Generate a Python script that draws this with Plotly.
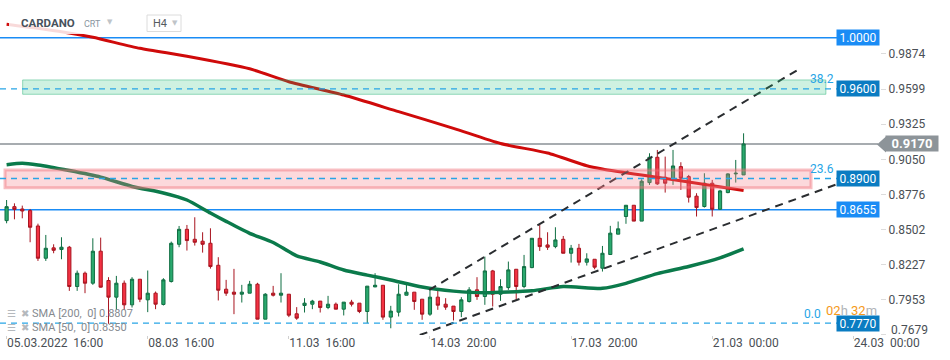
import plotly.graph_objects as go

# ---------------- data ----------------
candle_idx = list(range(95))
opens = [0.8571, 0.8680, 0.8662, 0.8649, 0.8529, 0.8277, 0.8358, 0.8345, 0.8363, 0.8056,
         0.8160, 0.8082, 0.8332, 0.8103, 0.7973, 0.8082, 0.7913, 0.8113, 0.7952, 0.8004,
         0.7916, 0.8095, 0.8386, 0.8503, 0.8425, 0.8410, 0.8394, 0.8222, 0.8035, 0.8012,
         0.7996, 0.8004, 0.8074, 0.7801, 0.8004, 0.7988, 0.7996, 0.7843, 0.7908, 0.7918,
         0.7942, 0.7892, 0.7918, 0.7879, 0.7934, 0.7926, 0.7861, 0.8053, 0.8066, 0.7817,
         0.7856, 0.7988, 0.8012, 0.7957, 0.7840, 0.7973, 0.7918, 0.7903, 0.7861, 0.7939,
         0.8030, 0.7978, 0.8178, 0.7996, 0.8048, 0.8191, 0.8056, 0.8204, 0.8433, 0.8381,
         0.8368, 0.8425, 0.8316, 0.8355, 0.8246, 0.8269, 0.8199, 0.8306, 0.8465, 0.8603,
         0.8691, 0.8567, 0.8868, 0.9066, 0.8910, 0.8889, 0.8993, 0.8915, 0.8762, 0.8681,
         0.8863, 0.8660, 0.8790, 0.8936, 0.8928]
highs = [0.8732, 0.8706, 0.8688, 0.8662, 0.8547, 0.8459, 0.8386, 0.8441, 0.8373, 0.8181,
         0.8173, 0.8433, 0.8438, 0.8129, 0.8139, 0.8103, 0.8129, 0.8113, 0.8181, 0.8017,
         0.8121, 0.8407, 0.8529, 0.8537, 0.8597, 0.8480, 0.8511, 0.8285, 0.8108, 0.8194,
         0.8069, 0.8100, 0.8085, 0.8004, 0.8061, 0.8160, 0.7996, 0.7895, 0.7965, 0.7952,
         0.7942, 0.7983, 0.7931, 0.7934, 0.7952, 0.7926, 0.8059, 0.8160, 0.8066, 0.7905,
         0.8074, 0.8074, 0.8012, 0.7957, 0.8030, 0.8030, 0.7965, 0.7903, 0.7973, 0.8051,
         0.8129, 0.8290, 0.8186, 0.8113, 0.8251, 0.8191, 0.8303, 0.8433, 0.8537, 0.8480,
         0.8519, 0.8451, 0.8381, 0.8389, 0.8316, 0.8269, 0.8373, 0.8530, 0.8564, 0.8691,
         0.8691, 0.8894, 0.9097, 0.9123, 0.9071, 0.9123, 0.9027, 0.8928, 0.8785, 0.8941,
         0.8889, 0.8811, 0.8941, 0.9045, 0.9253]
lows = [0.8550, 0.8581, 0.8589, 0.8402, 0.8256, 0.8256, 0.8316, 0.8269, 0.8022, 0.8022,
        0.8004, 0.8069, 0.8048, 0.7765, 0.7874, 0.7874, 0.7892, 0.7934, 0.7856, 0.7879,
        0.7908, 0.8087, 0.8363, 0.8337, 0.8376, 0.8321, 0.8196, 0.7947, 0.7983, 0.7840,
        0.7931, 0.8004, 0.7801, 0.7801, 0.7978, 0.7931, 0.7817, 0.7796, 0.7853, 0.7879,
        0.7853, 0.7879, 0.7879, 0.7830, 0.7900, 0.7848, 0.7770, 0.8051, 0.7796, 0.7730,
        0.7822, 0.7988, 0.7874, 0.7796, 0.7827, 0.7874, 0.7874, 0.7791, 0.7817, 0.7931,
        0.7952, 0.7913, 0.7900, 0.7944, 0.8030, 0.7952, 0.8043, 0.8199, 0.8334, 0.8342,
        0.8355, 0.8316, 0.8243, 0.8220, 0.8220, 0.8191, 0.8173, 0.8306, 0.8465, 0.8546,
        0.8567, 0.8567, 0.8850, 0.8850, 0.8790, 0.8850, 0.8811, 0.8712, 0.8603, 0.8673,
        0.8603, 0.8655, 0.8785, 0.8868, 0.8928]
closes = [0.8680, 0.8659, 0.8646, 0.8519, 0.8277, 0.8355, 0.8339, 0.8363, 0.8056, 0.8160,
          0.8082, 0.8332, 0.8051, 0.7973, 0.8082, 0.7913, 0.8113, 0.7957, 0.8004, 0.7918,
          0.8108, 0.8394, 0.8503, 0.8415, 0.8402, 0.8386, 0.8212, 0.8027, 0.8004, 0.7996,
          0.8012, 0.8074, 0.7801, 0.7996, 0.7988, 0.8004, 0.7832, 0.7809, 0.7926, 0.7942,
          0.7892, 0.7918, 0.7879, 0.7934, 0.7918, 0.7861, 0.8059, 0.8066, 0.7817, 0.7864,
          0.7996, 0.8012, 0.7939, 0.7840, 0.7973, 0.7910, 0.7895, 0.7861, 0.7952, 0.8030,
          0.7978, 0.8178, 0.7996, 0.8056, 0.8186, 0.8056, 0.8212, 0.8433, 0.8368, 0.8363,
          0.8420, 0.8316, 0.8355, 0.8246, 0.8272, 0.8207, 0.8316, 0.8473, 0.8507, 0.8691,
          0.8567, 0.8879, 0.9066, 0.8858, 0.8863, 0.8998, 0.8902, 0.8754, 0.8673, 0.8863,
          0.8660, 0.8803, 0.8936, 0.8941, 0.9170]

sma200_idx = [0, 7, 11, 17, 23, 31, 36, 43, 50, 57, 63, 69, 74, 76, 81, 87, 94]
sma200_val = [1.0105, 1.0047, 1.0003, 0.9917, 0.9855, 0.9757, 0.9656, 0.9552, 0.9422,
              0.9292, 0.9173, 0.9099, 0.9000, 0.8975, 0.8927, 0.8873, 0.8807]
sma50_idx = [0, 2, 4, 8, 12, 16, 20, 23, 26, 28, 31, 34, 37, 40, 43, 46, 49, 53, 57, 61,
             67, 71, 76, 79, 83, 87, 91, 94]
sma50_val = [0.9008, 0.9019, 0.9006, 0.8962, 0.8911, 0.8838, 0.8787, 0.8732, 0.8630, 0.8565,
             0.8472, 0.8400, 0.8295, 0.8248, 0.8185, 0.8145, 0.8107, 0.8052, 0.8020, 0.8007,
             0.8023, 0.8056, 0.8042, 0.8081, 0.8157, 0.8213, 0.8280, 0.8350]

trend_upper_idx = [53.9, 101.3]
trend_upper_val = [0.8029, 0.9763]
trend_lower_idx = [52.7, 106.0]
trend_lower_val = [0.7677, 0.8857]

zone_green_idx = [2.05, 104.5]
zone_green_val = [0.9558, 0.9670]
zone_pink_idx = [-0.2, 102.6]
zone_pink_val = [0.8827, 0.8966]

solid_levels = [1.0000, 0.8655]
dashed_levels = [0.9600, 0.8900, 0.7770]
last_price = 0.9170
fib_labels = ["38.2", "23.6", "0.0"]
fib_levels = [0.9600, 0.8900, 0.7770]
level_labels = ["1.0000", "0.9600", "0.8900", "0.8655", "0.7770"]
level_label_vals = [1.0000, 0.9600, 0.8900, 0.8655, 0.7770]

x_tick_idx = [0, 18, 36, 54, 72, 90, 108]
x_tick_text = ["05.03.2022\u00a0\u00a016:00", "08.03\u00a0\u00a016:00", "11.03\u00a0\u00a016:00",
               "14.03\u00a0\u00a020:00", "17.03\u00a0\u00a020:00", "21.03\u00a0\u00a000:00",
               "24.03\u00a0\u00a000:00"]
y_tick_vals = [0.7679, 0.7953, 0.8227, 0.8502, 0.8776, 0.9050, 0.9325, 0.9599, 0.9874]
y_tick_text = ["", "0.7953", "0.8227", "0.8502", "0.8776", "0.9050", "0.9325",
               "0.9599", "0.9874"]
y_bottom_label = "0.7679"

# ---------------- layout constants ----------------
W, H = 880, 335
FONT = "Roboto"
GREEN_FILL, GREEN_LINE = "#2aa96e", "#0f6e42"
RED_FILL, RED_LINE = "#f43243", "#a8141f"
BLUE = "#1a8cf5"
DARKBLUE = "#0a7cc2"
LIGHTBLUE = "#28a5e6"


def px(x):
    return x / W


def py(y):
    return 1 - y / H


fig = go.Figure()

fig.add_trace(go.Candlestick(
    x=candle_idx, open=opens, high=highs, low=lows, close=closes,
    increasing=dict(fillcolor=GREEN_FILL, line=dict(color=GREEN_LINE, width=1)),
    decreasing=dict(fillcolor=RED_FILL, line=dict(color=RED_LINE, width=1)),
    whiskerwidth=0, hoverinfo="skip", showlegend=False,
))
fig.add_trace(go.Scatter(x=sma50_idx, y=sma50_val, mode="lines",
                         line=dict(color="#0b7a4b", width=3.5, shape="spline", smoothing=0.6),
                         hoverinfo="skip", showlegend=False))
fig.add_trace(go.Scatter(x=sma200_idx, y=sma200_val, mode="lines",
                         line=dict(color="#cf0a0a", width=3, shape="spline", smoothing=0.6),
                         hoverinfo="skip", showlegend=False))
for xs, ys in [(trend_upper_idx, trend_upper_val), (trend_lower_idx, trend_lower_val)]:
    fig.add_trace(go.Scatter(x=xs, y=ys, mode="lines",
                             line=dict(color="#2a2d30", width=2, dash="8px,6px"),
                             hoverinfo="skip", showlegend=False))

shapes = []
for v in solid_levels:
    shapes.append(dict(type="line", xref="paper", yref="y", x0=0, x1=px(838), y0=v, y1=v,
                       line=dict(color=BLUE, width=1.5), layer="below"))
shapes.append(dict(type="line", xref="paper", yref="y", x0=0, x1=px(878), y0=last_price,
                   y1=last_price, line=dict(color="#8a9096", width=1.5), layer="below"))
shapes.append(dict(type="rect", xref="x", yref="y", x0=zone_green_idx[0], x1=zone_green_idx[1],
                   y0=zone_green_val[0], y1=zone_green_val[1],
                   fillcolor="rgba(30,190,120,0.22)", line=dict(color="rgba(30,175,110,0.45)", width=1),
                   layer="above"))
shapes.append(dict(type="rect", xref="x", yref="y", x0=zone_pink_idx[0], x1=zone_pink_idx[1],
                   y0=zone_pink_val[0], y1=zone_pink_val[1],
                   fillcolor="rgba(245,130,140,0.30)", line=dict(color="rgba(240,110,120,0.45)", width=3),
                   layer="above"))
for v in dashed_levels:
    shapes.append(dict(type="line", xref="paper", yref="y", x0=0, x1=px(838), y0=v, y1=v,
                       line=dict(color=LIGHTBLUE, width=1.3, dash="6px,5px"), layer="above"))
shapes.append(dict(type="rect", xref="paper", yref="paper", x0=px(9), x1=px(190), y0=py(34), y1=py(8),
                   fillcolor="rgba(255,255,255,0.85)", line=dict(width=0), layer="above"))
shapes.append(dict(type="rect", xref="paper", yref="paper", x0=px(147), x1=px(181), y0=py(31.5), y1=py(15),
                   fillcolor="white", line=dict(color="#dcdcdc", width=1), layer="above"))
shapes.append(dict(type="path", xref="paper", yref="paper",
                   path=f"M {px(877)},{py(144.5)} L {px(886)},{py(136.5)} L {px(886)},{py(152.5)} Z",
                   fillcolor="#8d9499", line=dict(width=0), layer="above"))

ann = []
for txt, v in zip(level_labels, level_label_vals):
    col = BLUE if txt in ("1.0000", "0.8655") else DARKBLUE
    ann.append(dict(xref="paper", yref="y", x=1, y=v, xanchor="right", yanchor="middle",
                    text=txt, showarrow=False, bgcolor=col, width=40, height=13, borderpad=1,
                    font=dict(family=FONT, size=12, color="white")))
ann.append(dict(xref="paper", yref="y", x=px(885), y=last_price, xanchor="left", yanchor="middle",
                text="<b>0.9170</b>", showarrow=False, bgcolor="#8d9499", width=50, height=13,
                borderpad=1, font=dict(family=FONT, size=13, color="white")))
for t, v in zip(fib_labels, fib_levels):
    if t == "0.0":
        continue
    ann.append(dict(xref="paper", yref="y", x=px(836), y=v, xanchor="right", yanchor="bottom",
                    yshift=1, text=t, showarrow=False,
                    font=dict(family=FONT, size=12, color=LIGHTBLUE)))
ann.append(dict(xref="paper", yref="paper", x=px(823), y=py(314), xanchor="right", yanchor="middle",
                text=fib_labels[2], showarrow=False, font=dict(family=FONT, size=12, color=LIGHTBLUE)))
ann.append(dict(xref="paper", yref="paper", x=px(824), y=py(310), xanchor="left", yanchor="middle",
                text="<span style='color:#f59a1b'>02</span><span style='color:#b0b4b8'>h</span> "
                     "<span style='color:#f59a1b'>32</span><span style='color:#b0b4b8'>m</span>",
                showarrow=False, font=dict(family=FONT, size=13, color="#f59a1b")))
ann.append(dict(xref="paper", yref="paper", x=px(889), y=py(330), xanchor="left", yanchor="middle",
                text=y_bottom_label, showarrow=False, font=dict(family=FONT, size=12, color="#4a4f55")))
# header
ann.append(dict(xref="paper", yref="paper", x=px(19), y=py(23), xanchor="left", yanchor="middle",
                text="<b>CARDANO</b>", showarrow=False, font=dict(family=FONT, size=11.5, color="#47525c")))
ann.append(dict(xref="paper", yref="paper", x=px(82), y=py(24), xanchor="left", yanchor="middle",
                text="CRT", showarrow=False, font=dict(family=FONT, size=9, color="#8a96a0")))
ann.append(dict(xref="paper", yref="paper", x=px(105), y=py(22), xanchor="left", yanchor="middle",
                text="▼", showarrow=False, font=dict(family="DejaVu Sans", size=7, color="#c0c4c8")))
ann.append(dict(xref="paper", yref="paper", x=px(151), y=py(23), xanchor="left", yanchor="middle",
                text="H4", showarrow=False, font=dict(family=FONT, size=11, color="#555b60")))
ann.append(dict(xref="paper", yref="paper", x=px(170), y=py(23), xanchor="left", yanchor="middle",
                text="▼", showarrow=False, font=dict(family="DejaVu Sans", size=7, color="#c0c4c8")))
# SMA legend
for row_y, label in [(313, "SMA [200,  0] 0.8807"), (327.5, "SMA [50,  0] 0.8350")]:
    ann.append(dict(xref="paper", yref="paper", x=px(5), y=py(row_y), xanchor="left", yanchor="middle",
                    text="☰", showarrow=False, font=dict(family="DejaVu Sans", size=10, color="#b5b9bd")))
    ann.append(dict(xref="paper", yref="paper", x=px(19), y=py(row_y), xanchor="left", yanchor="middle",
                    text="✖", showarrow=False, font=dict(family="DejaVu Sans", size=10, color="#b5b9bd")))
    ann.append(dict(xref="paper", yref="paper", x=px(30), y=py(row_y), xanchor="left", yanchor="middle",
                    text=label.replace("  ", "\u00a0\u00a0"), showarrow=False,
                    font=dict(family=FONT, size=11, color="#858a8f")))

fig.update_layout(
    width=950, height=360,
    margin=dict(l=0, r=70, t=0, b=25),
    paper_bgcolor="white", plot_bgcolor="white",
    boxgap=0.42,
    shapes=shapes, annotations=ann,
    font=dict(family=FONT),
    xaxis=dict(range=[-0.842, 111.40], rangeslider=dict(visible=False), showgrid=False,
               zeroline=False, showline=False, tickmode="array", tickvals=x_tick_idx,
               ticktext=x_tick_text, ticks="outside", ticklen=3, tickcolor="#d0d0d0",
               ticklabelposition="outside right", ticklabelstandoff=-3,
               tickfont=dict(family=FONT, size=12, color="#4a4f55")),
    yaxis=dict(range=[0.76773, 1.02945], side="right", showgrid=False, zeroline=False,
               showline=False, tickmode="array", tickvals=y_tick_vals, ticktext=y_tick_text,
               ticks="outside", ticklen=5, tickcolor="#dcdcdc",
               tickfont=dict(family=FONT, size=12, color="#4a4f55")),
)

fig.write_html("out.html",
               config={"displayModeBar": False, "staticPlot": True},
               post_script="document.body.style.margin='0px';document.body.style.overflow='hidden';")
